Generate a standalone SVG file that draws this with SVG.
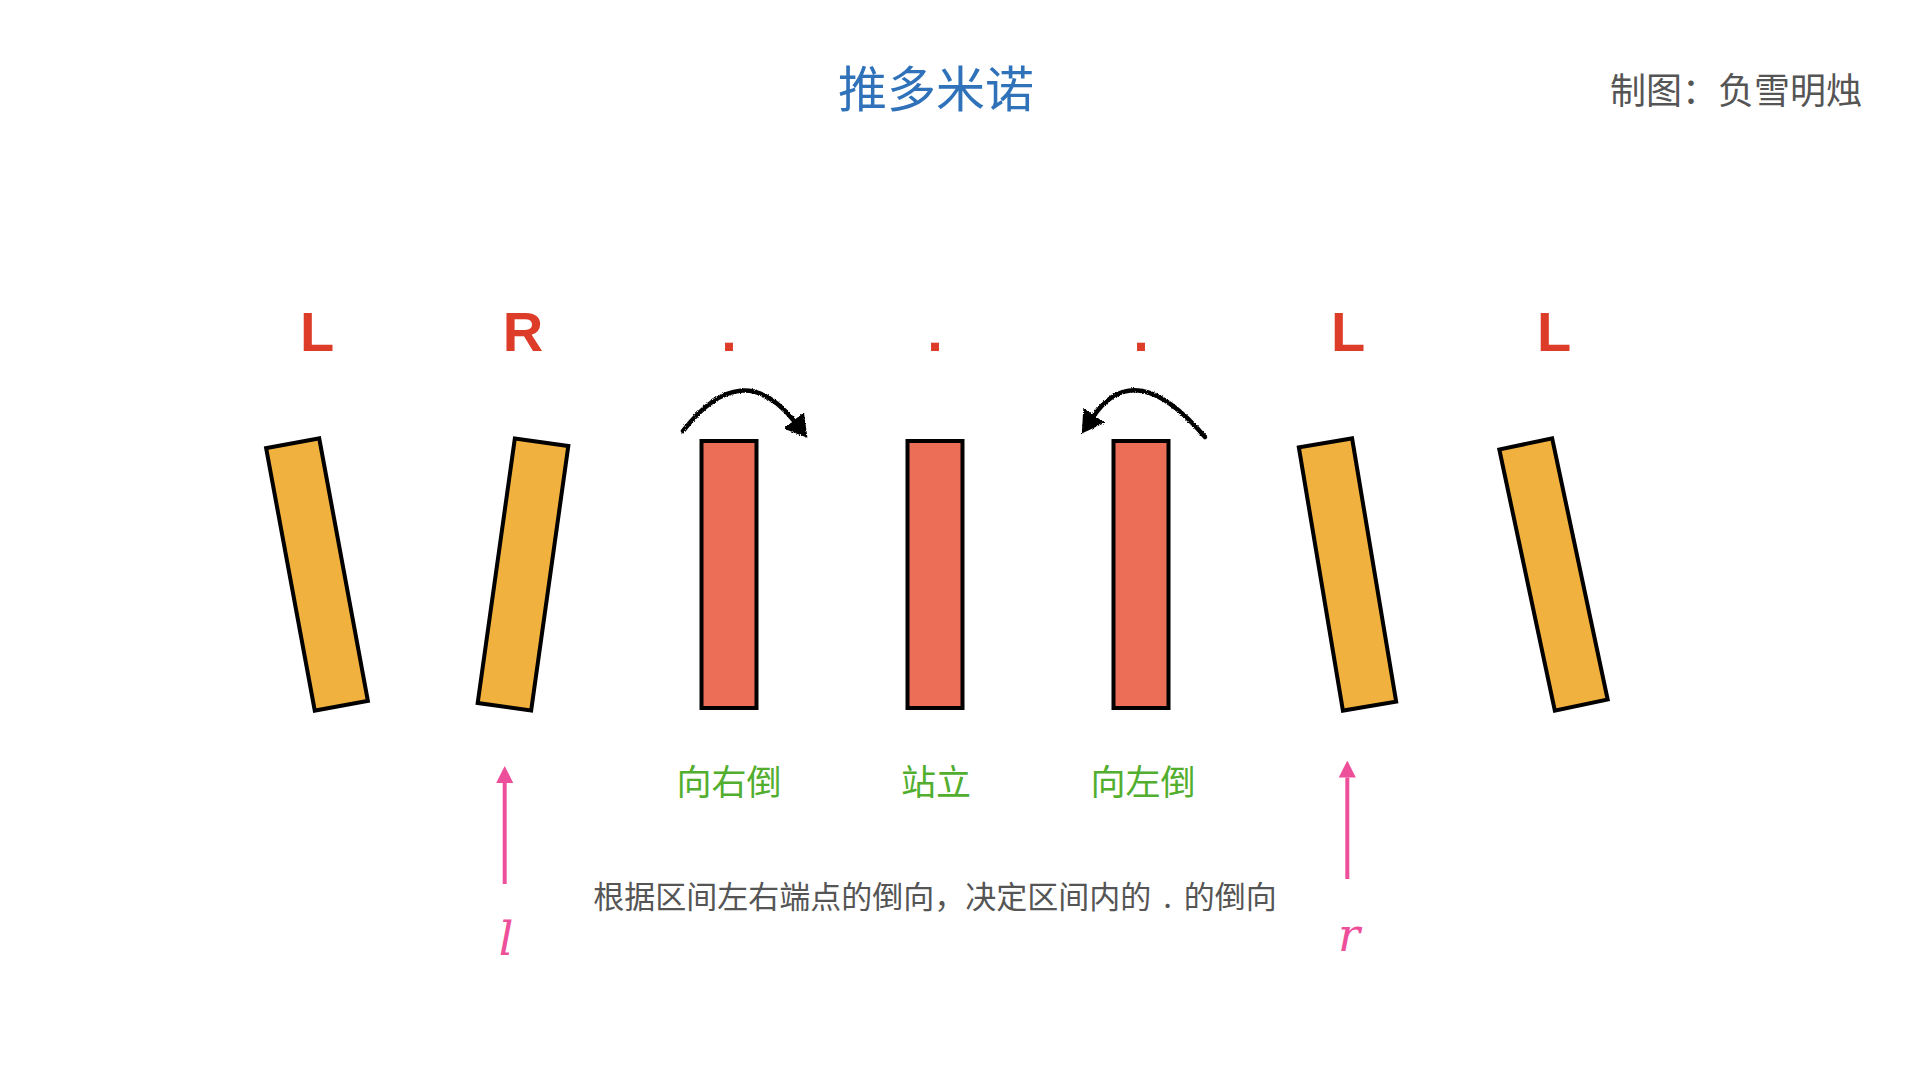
<svg xmlns="http://www.w3.org/2000/svg" width="1920" height="1080" viewBox="0 0 1920 1080">
  <style>
    .bg { fill: #ffffff; }
    .domino { fill: #f1b13e; stroke: #000000; stroke-width: 4; stroke-linejoin: miter; }
    .standing { fill: #ec6e56; stroke: #000000; stroke-width: 4; }
    .state { font-family: "Liberation Sans", Arial, sans-serif; font-weight: bold; font-size: 56px; fill: #dc3c28; text-anchor: middle; }
    .title { font-family: "Noto Sans CJK SC", "Noto Sans", sans-serif; font-size: 49px; fill: #2f72ba; text-anchor: middle; }
    .credit { font-family: "Noto Sans CJK SC", "Noto Sans", sans-serif; font-size: 36px; fill: #555555; text-anchor: end; }
    .action { font-family: "Noto Sans CJK SC", "Noto Sans", sans-serif; font-size: 35px; fill: #52ae2e; text-anchor: middle; }
    .note { font-family: "Noto Sans CJK SC", "Noto Sans", sans-serif; font-size: 31px; fill: #555555; text-anchor: middle; word-spacing: 5px; }
    .ptr { font-family: "DejaVu Serif", "Liberation Serif", serif; font-style: italic; font-size: 46px; fill: #ee4f9a; text-anchor: middle; }
    .flip { fill: none; stroke: #000000; stroke-width: 4.5; stroke-linecap: round; }
    .pointer { fill: none; stroke: #ee4f9a; stroke-width: 4; }
  </style>
  <defs>
    <filter id="rough" x="-10%" y="-10%" width="120%" height="120%">
      <feTurbulence type="fractalNoise" baseFrequency="0.9" numOctaves="2" seed="3" result="n"/>
      <feDisplacementMap in="SourceGraphic" in2="n" scale="3" xChannelSelector="R" yChannelSelector="G"/>
    </filter>
    <marker id="blackHead" markerUnits="userSpaceOnUse" markerWidth="22" markerHeight="26" viewBox="0 0 22 26" refX="2" refY="13" orient="auto">
      <path d="M0,0 L22,13 L0,26 z" fill="#000000"/>
    </marker>
    <marker id="pinkHead" markerUnits="userSpaceOnUse" markerWidth="17" markerHeight="17" viewBox="0 0 17 17" refX="0" refY="8.5" orient="auto">
      <path d="M0,0 L17,8.5 L0,17 z" fill="#ee4f9a"/>
    </marker>
  </defs>

  <rect class="bg" x="0" y="0" width="1920" height="1080"/>

  <g id="title">
    <text class="title" x="936" y="107">推多米诺</text>
  </g>
  <g id="credit">
    <text class="credit" x="1862" y="104">制图：负雪明烛</text>
  </g>

  <g id="domino-1">
    <text class="state" x="317" y="351">L</text>
    <rect class="domino" x="290" y="441" width="54" height="267" transform="rotate(-10.5 317 574.5)"/>
  </g>
  <g id="domino-2">
    <text class="state" x="523" y="351">R</text>
    <rect class="domino" x="496" y="441" width="54" height="267" transform="rotate(8 523 574.5)"/>
  </g>
  <g id="domino-3">
    <text class="state" x="729" y="351">.</text>
    <rect class="standing" x="701.5" y="441" width="55" height="267"/>
    <text class="action" x="729" y="795">向右倒</text>
  </g>
  <g id="domino-4">
    <text class="state" x="935" y="351">.</text>
    <rect class="standing" x="907.5" y="441" width="55" height="267"/>
    <text class="action" x="936" y="795">站立</text>
  </g>
  <g id="domino-5">
    <text class="state" x="1141" y="351">.</text>
    <rect class="standing" x="1113.5" y="441" width="55" height="267"/>
    <text class="action" x="1143" y="795">向左倒</text>
  </g>
  <g id="domino-6">
    <text class="state" x="1348" y="351">L</text>
    <rect class="domino" x="1320.5" y="441" width="54" height="267" transform="rotate(-9.5 1347.5 574.5)"/>
  </g>
  <g id="domino-7">
    <text class="state" x="1554" y="351">L</text>
    <rect class="domino" x="1526.5" y="441" width="54" height="267" transform="rotate(-12 1553.5 574.5)"/>
  </g>

  <g id="pointer-l">
    <text class="ptr" x="506" y="955">l</text>
  </g>
  <g id="pointer-r">
    <text class="ptr" x="1349" y="951">r</text>
  </g>

  <g id="note">
    <text class="note" x="935" y="908">根据区间左右端点的倒向，决定区间内的 . 的倒向</text>
  </g>

  <g id="connectors">
    <g filter="url(#rough)">
      <path class="flip" d="M683,431 Q742,355 795,422" marker-end="url(#blackHead)"/>
      <path class="flip" d="M1205,437 Q1135,355 1093,417" marker-end="url(#blackHead)"/>
    </g>
    <line class="pointer" x1="504.7" y1="884" x2="504.7" y2="783" marker-end="url(#pinkHead)"/>
    <line class="pointer" x1="1347.3" y1="879" x2="1347.3" y2="777.5" marker-end="url(#pinkHead)"/>
  </g>
</svg>
